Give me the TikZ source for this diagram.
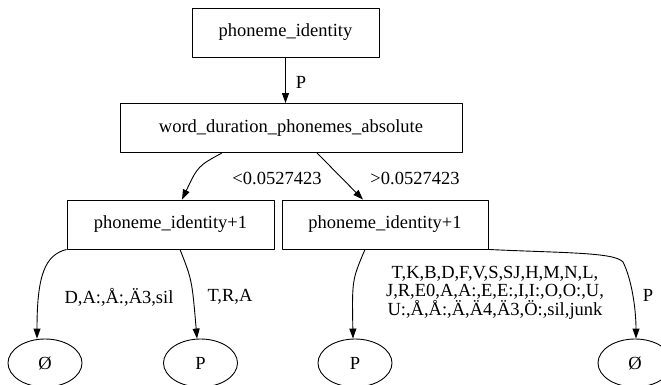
\documentclass[tikz,border=0pt]{standalone}
\usepackage{fontspec}
\setmainfont{Liberation Serif}
\usetikzlibrary{arrows.meta,shapes.geometric}
\begin{document}
\begin{tikzpicture}[>={Triangle[length=10pt,width=7pt]},line join=round, x=1pt, y=-1pt,
	font=\fontsize{18.5}{17.5}\selectfont, line width=0.9pt,
	hop/.style={draw, rectangle, minimum height=49pt, inner sep=0pt},
	la/.style={draw, ellipse, minimum width=74pt, minimum height=48pt, inner sep=0pt},
	nhan/.style={align=center, inner sep=0pt}]
	\clip (0,0) rectangle (661,385);
	% cac nut trong
	\node[hop, minimum width=187pt] (goc) at (285.5,32.5) {phoneme\_identity};
	\node[hop, minimum width=342pt] (dur) at (291,128) {word\_duration\_phonemes\_absolute};
	\node[hop, minimum width=207pt] (lp) at (170.5,224.5) {phoneme\_identity+1};
	\node[hop, minimum width=206pt] (rp) at (385,224.5) {phoneme\_identity+1};
	% cac la
	\node[la] (o1) at (45,363) {Ø};
	\node[la] (p1) at (200.5,363) {P};
	\node[la] (p2) at (355,363) {P};
	\node[la] (o2) at (635,363) {Ø};
	% nhan canh
	\node[nhan] (n0) at (301,82) {P};
	\node[nhan] (n1) at (277,178) {<0.0527423};
	\node[nhan] (n2) at (415,178) {>0.0527423};
	\node[nhan] (n3) at (119,297) {D,A:,Å:,Ä3,sil};
	\node[nhan] (n4) at (230,297) {T,R,A};
	\node[nhan] (n5) at (495,293) {T,K,B,D,F,V,S,SJ,H,M,N,L,\\J,R,E0,A,A:,E,E:,I,I:,O,O:,U,\\U:,Å,Å:,Ä,Ä4,Ä3,Ö:,sil,junk};
	\node[nhan] (n6) at (648,295) {P};
	% canh
	\draw[->] (goc.south) -- (goc.south |- dur.north);
	\draw[->] ([xshift=-69pt]dur.south) .. controls (198,166) .. ([xshift=11.5pt]lp.north);
	\draw[->] ([xshift=26pt]dur.south) -- ([xshift=-22pt]rp.north);
	\draw[->] (lp.south west) .. controls (45,255) and (37,275) .. ([xshift=-8pt]o1.north);
	\draw[->] ([xshift=9.5pt]lp.south) .. controls (192,280) .. ([xshift=-3.5pt]p1.north);
	\draw[->] ([xshift=-20pt]rp.south) .. controls (352,280) .. ([xshift=-2pt]p2.north);
	\draw[->] (rp.south east) .. controls (560,253) and (615,252) .. (623,262) .. controls (632,280) and (636,310) .. ([xshift=1pt]o2.north);
\end{tikzpicture}
\end{document}
